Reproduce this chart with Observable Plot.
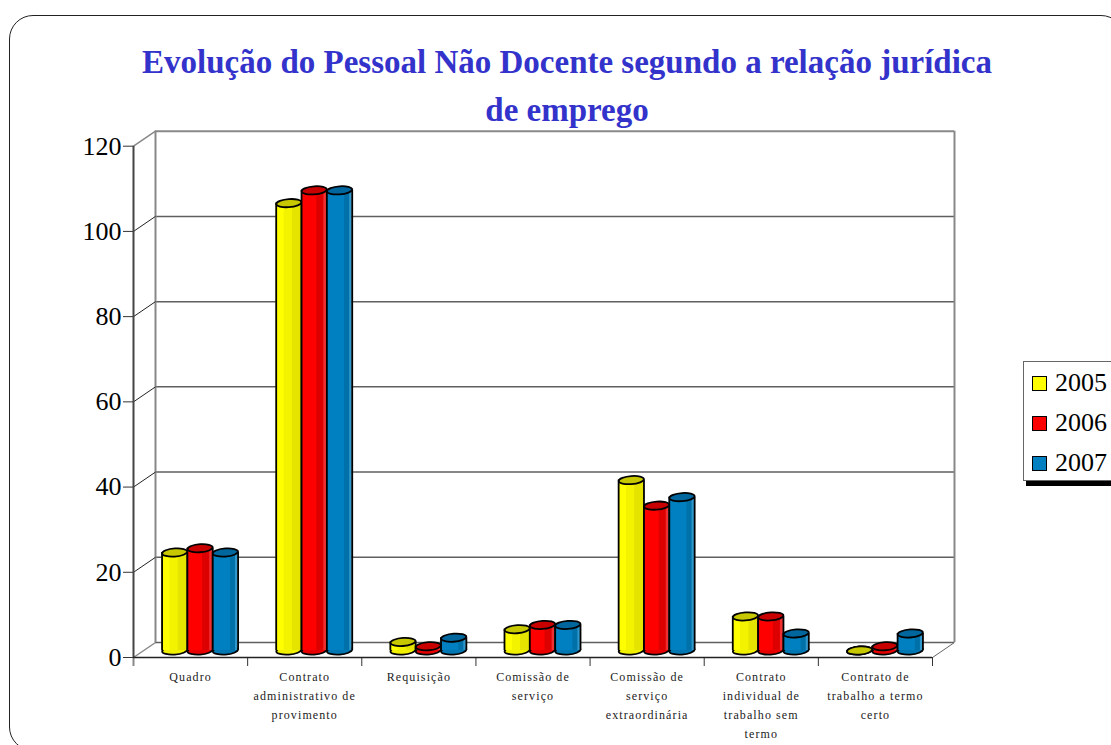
<!DOCTYPE html>
<html lang="pt">
<head>
<meta charset="utf-8">
<script src="https://cdn.jsdelivr.net/npm/d3@7"></script>
<script src="https://cdn.jsdelivr.net/npm/@observablehq/plot@0.6"></script>
<style>
html,body{margin:0;padding:0;background:#fff;width:1111px;height:745px;overflow:hidden;font-family:"Liberation Serif",serif}
#page{position:relative;width:1111px;height:745px;overflow:hidden}
#frame{position:absolute;left:9px;top:15px;width:1116px;height:736px;border:1.7px solid #222;border-radius:24px;box-sizing:border-box}
#title{position:absolute;left:67px;top:38px;width:1000px;text-align:center;font-weight:bold;font-size:33px;line-height:48px;color:#3333cc;white-space:nowrap}
#chart{position:absolute;left:0;top:0}
#legend{position:absolute;left:1023px;top:361px;width:120px;height:120px;border:1.5px solid #666;box-sizing:border-box;background:#fff;box-shadow:3px 5px 0 #000}
.row{position:absolute;left:8px;height:40px;display:flex;align-items:center;font-size:26px;color:#000}
.sw{width:15px;height:15px;border:1.5px solid #000;margin-right:8px;box-sizing:border-box;flex:none}
</style>
</head>
<body>
<div id="page">
  <svg width="0" height="0" style="position:absolute">
    <defs>
      <linearGradient id="g2005"><stop offset="0" stop-color="#ffff00"/><stop offset=".3" stop-color="#ffff00"/><stop offset=".32" stop-color="#f3f300"/><stop offset=".62" stop-color="#f3f300"/><stop offset=".65" stop-color="#e4e400"/><stop offset="1" stop-color="#e4e400"/></linearGradient>
      <linearGradient id="g2006"><stop offset="0" stop-color="#ff0000"/><stop offset=".58" stop-color="#ff0000"/><stop offset=".62" stop-color="#dd0000"/><stop offset=".86" stop-color="#dd0000"/><stop offset=".9" stop-color="#f03030"/><stop offset="1" stop-color="#f03030"/></linearGradient>
      <linearGradient id="g2007"><stop offset="0" stop-color="#0080c0"/><stop offset=".68" stop-color="#0080c0"/><stop offset=".72" stop-color="#0070a8"/><stop offset=".88" stop-color="#0070a8"/><stop offset=".92" stop-color="#3098cc"/><stop offset="1" stop-color="#3098cc"/></linearGradient>
    </defs>
  </svg>
  <div id="frame"></div>
  <div id="chart"></div>
  <div id="title">Evolução do Pessoal Não Docente segundo a relação jurídica<br>de emprego</div>
  <div id="legend"></div>
</div>
<script>
const categories = ["Quadro","Contrato\nadministrativo de\nprovimento","Requisição","Comissão de\nserviço","Comissão de\nserviço\nextraordinária","Contrato\nindividual de\ntrabalho sem\ntermo","Contrato de\ntrabalho a termo\ncerto"];
const years = ["2005","2006","2007"];
const values2005 = [23,105,2,5,40,8,0];
const values2006 = [24,108,1,6,34,8,1];
const values2007 = [23,108,3,6,36,4,4];
const yTicks = [0,20,40,60,80,100,120];
const bodyColors = {"2005":"url(#g2005)","2006":"url(#g2006)","2007":"url(#g2007)"};
const capColors = {"2005":"#c8c800","2006":"#c80000","2007":"#00669e"};
const baseColors = {"2005":"#f0f000","2006":"#e80000","2007":"#0076b2"};
const legendColors = {"2005":"#ffff00","2006":"#ff0000","2007":"#0080c0"};

const series = [values2005, values2006, values2007];
const barWidth = 0.222;
const depthX = 0.1927, depthY = 3.52;
const barDx = 9.5, barDy = -7;

const records = years.map((yr, s) => series[s].map((v, i) => ({
  year: yr, value: v, cat: i,
  left: i + 0.5 + (s - 1.5) * barWidth,
  right: i + 0.5 + (s - 0.5) * barWidth,
  mid: i + 0.5 + (s - 1) * barWidth
})));

// Flattened, slightly tilted ellipse used for the cylinder caps and bases
const ellipse = {draw(ctx, size) {
  const a = Math.sqrt(size / Math.PI), b = a * 0.32, k = 0.5523, t = 0.07;
  const Y = (x, y) => y - t * x;
  ctx.moveTo(-a, Y(-a, 0));
  ctx.bezierCurveTo(-a, Y(-a, -b*k), -a*k, Y(-a*k, -b), 0, Y(0, -b));
  ctx.bezierCurveTo(a*k, Y(a*k, -b), a, Y(a, -b*k), a, Y(a, 0));
  ctx.bezierCurveTo(a, Y(a, b*k), a*k, Y(a*k, b), 0, Y(0, b));
  ctx.bezierCurveTo(-a*k, Y(-a*k, b), -a, Y(-a, b*k), -a, Y(-a, 0));
  ctx.closePath();
}};

const offs = {dx: barDx, dy: barDy};
const barMarks = records.flatMap((rows, s) => {
  const yr = years[s];
  return [
    Plot.dot(rows, {x:"mid", y:()=>0, symbol:ellipse, r:12.6, fill:baseColors[yr], stroke:"#000", strokeWidth:1.8, ...offs}),
    Plot.rect(rows, {x1:"left", x2:"right", y1:()=>0, y2:"value", fill:bodyColors[yr], ...offs}),
    Plot.ruleX(rows, {x:"left", y1:()=>0, y2:"value", stroke:"#000", strokeWidth:1.8, ...offs}),
    Plot.ruleX(rows, {x:"right", y1:()=>0, y2:"value", stroke:"#000", strokeWidth:1.8, ...offs}),
    Plot.dot(rows, {x:"mid", y:"value", symbol:ellipse, r:12.6, fill:capColors[yr], stroke:"#000", strokeWidth:1.8, ...offs})
  ];
});

const chart = Plot.plot({
  width: 1111, height: 745,
  marginLeft: 133, marginRight: 179, marginTop: 145.7, marginBottom: 88,
  style: {fontFamily: '"Liberation Serif", serif', background: "transparent", overflow: "visible"},
  x: {type: "linear", domain: [0, 7]},
  y: {type: "linear", domain: [0, 120]},
  marks: [
    // back wall and grid
    Plot.ruleY(yTicks, {y: d => d + depthY, x1: depthX, x2: 7 + depthX, stroke: d => d === 120 ? "#888" : "#5f5f5f", strokeWidth: d => d === 120 ? 2 : 1.5}),
    Plot.ruleX([depthX, 7 + depthX], {y1: depthY, y2: 120 + depthY, stroke: "#888", strokeWidth: 2}),
    // depth connectors
    Plot.link(yTicks, {x1: 0, x2: depthX, y1: d => d, y2: d => d + depthY, stroke: d => (d === 120 || d === 0) ? "#888" : "#222", strokeWidth: d => (d === 120 || d === 0) ? 1.5 : 1}),
    Plot.link([0], {x1: 7, x2: 7 + depthX, y1: 0, y2: depthY, stroke: "#666", strokeWidth: 1}),
    // axes
    Plot.ruleX([0], {y1: 0, y2: 120, stroke: "#444", strokeWidth: 2}),
    Plot.axisX({ticks: d3.range(0, 8), tickSize: 9, tickFormat: () => "", label: null, stroke: d => d === 0 ? "#888" : "#333", strokeWidth: d => d === 0 ? 2 : 1}),
    Plot.ruleY([0], {x1: 0, x2: 7, stroke: "#222", strokeWidth: 1.5}),
    Plot.axisY({ticks: yTicks, tickSize: 10, tickPadding: 2, fontSize: 26, color: "#000", label: null, stroke: "#333"}),
    ...barMarks,
    // category labels
    Plot.text(categories, {
      x: (d, i) => i + 0.5, y: () => 0, text: d => d,
      frameAnchor: "bottom", lineAnchor: "top", dy: 10.5,
      fontSize: 12, lineHeight: 1.57, fill: "#222"
    })
  ]
});
document.getElementById("chart").appendChild(chart);
chart.querySelectorAll("text").forEach(t => { if (/[a-z]/i.test(t.textContent)) t.style.letterSpacing = "1.1px"; });

const legend = document.getElementById("legend");
years.forEach((yr, i) => {
  const row = document.createElement("div");
  row.className = "row";
  row.style.top = (1 + i * 40) + "px";
  row.innerHTML = `<span class="sw" style="background:${legendColors[yr]}"></span><span>${yr}</span>`;
  legend.appendChild(row);
});
</script>
</body>
</html>
